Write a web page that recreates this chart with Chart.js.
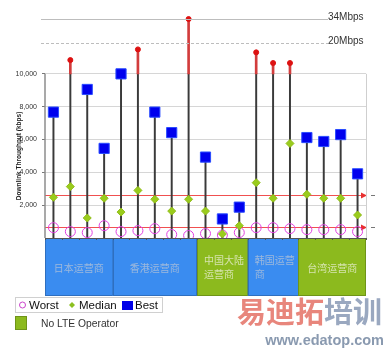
<!DOCTYPE html>
<html>
<head>
<meta charset="utf-8">
<script src="https://cdn.jsdelivr.net/npm/chart.js@4"></script>
<style>
  body { margin: 0; background: #fff; }
  #wrap { position: relative; width: 389px; height: 352px; }
</style>
</head>
<body>
<div id="wrap"><canvas id="chart" width="389" height="352"></canvas></div>
<script>
// operators, in plot order, grouped by region
const groupNames = ['日本运营商', '香港运营商', '中国大陆运营商', '韩国运营商', '台湾运营商']
const groupSizes = [4, 5, 3, 3, 4]
const groupHasLTE = [true, true, false, true, false]

// downlink throughput per operator (kbps)
const worst = [630, 390, 330, 750, 390, 450, 570, 210, 150, 270, 180, 330, 630, 630, 570, 510, 510, 510, 390]
const median = [2480, 3130, 1220, 2420, 1580, 2900, 2360, 1640, 2360, 1640, 250, 750, 3370, 2420, 5760, 2660, 2420, 2420, 1400]
const best = [7670, 10840, 9050, 5460, 10000, 11490, 7670, 6420, 13340, 4930, 1160, 1880, 11310, 10660, 10660, 6120, 5880, 6300, 3910]

const yTicks = [2000, 4000, 6000, 8000, 10000]
const yCap = 10000
const thresholds = [2620, 640]
const refLines = [13340, 11910]
const refLabels = ['34Mbps', '20Mbps']

const labels = []
groupNames.forEach((g, gi) => {
  for (let i = 0; i < groupSizes[gi]; i++) labels.push(g + ' ' + (i + 1))
})

const font = '"Liberation Sans", Arial, sans-serif'
const cjk = '"Noto Sans CJK SC", sans-serif'

const wrapText = (ctx, text, maxW) => {
  const lines = []
  let line = ''
  for (const ch of text) {
    if (line && ctx.measureText(line + ch).width > maxW) {
      lines.push(line)
      line = ch
    } else {
      line += ch
    }
  }
  lines.push(line)
  return lines
}

const decor = {
  id: 'decor',
  beforeDatasetsDraw(chart) {
    const { ctx, chartArea: a, scales: { y } } = chart
    ctx.save()
    thresholds.forEach(v => {
      const py = Math.round(y.getPixelForValue(v)) + 0.5
      ctx.strokeStyle = '#f05050'
      ctx.fillStyle = '#e83030'
      ctx.lineWidth = 1
      ctx.beginPath()
      ctx.moveTo(a.left, py)
      ctx.lineTo(a.right - 4, py)
      ctx.stroke()
      ctx.beginPath()
      ctx.moveTo(a.right + 1, py)
      ctx.lineTo(a.right - 5, py - 3)
      ctx.lineTo(a.right - 5, py + 3)
      ctx.closePath()
      ctx.fill()
      ctx.strokeStyle = '#777'
      ctx.beginPath()
      ctx.moveTo(a.right + 5, py)
      ctx.lineTo(a.right + 9, py)
      ctx.stroke()
    })
    ctx.restore()
  },
  afterDraw(chart) {
    const { ctx, chartArea: a, scales: { x, y } } = chart
    const y0 = y.getPixelForValue(0)
    const yTop = y.getPixelForValue(yCap)
    ctx.save()

    // reference lines above the scale
    refLines.forEach((v, i) => {
      const py = Math.round(y.getPixelForValue(v)) + 0.5
      ctx.strokeStyle = '#bdbdbd'
      ctx.lineWidth = 1
      ctx.setLineDash(i === 0 ? [] : [3, 2])
      ctx.beginPath()
      ctx.moveTo(41, py)
      ctx.lineTo(328, py)
      ctx.stroke()
      ctx.setLineDash([])
      ctx.fillStyle = '#333'
      ctx.font = '10px ' + font
      ctx.textAlign = 'left'
      ctx.textBaseline = 'alphabetic'
      ctx.fillText(refLabels[i], 328, py)
    })

    // left axis line and right border
    ctx.strokeStyle = '#8c8c8c'
    ctx.lineWidth = 1.5
    ctx.beginPath()
    ctx.moveTo(a.left, yTop)
    ctx.lineTo(a.left, y0)
    ctx.stroke()
    ctx.strokeStyle = '#cfcfcf'
    ctx.lineWidth = 1
    ctx.beginPath()
    ctx.moveTo(a.right + 0.5, yTop)
    ctx.lineTo(a.right + 0.5, y0)
    ctx.stroke()

    // axis title
    ctx.save()
    ctx.translate(19, (y0 + yTop) / 2)
    ctx.rotate(-Math.PI / 2)
    ctx.fillStyle = '#222'
    ctx.font = 'bold 6.5px ' + font
    ctx.textAlign = 'center'
    ctx.textBaseline = 'middle'
    ctx.fillText('Downlink Throughput (kbps)', 0, 0)
    ctx.restore()

    // region bands
    const half = (x.getPixelForValue(1) - x.getPixelForValue(0)) / 2
    const bandTop = Math.round(y0)
    const bandBottom = 296
    let start = 0
    groupNames.forEach((name, gi) => {
      const l = x.getPixelForValue(start) - half
      const r = x.getPixelForValue(start + groupSizes[gi] - 1) + half
      ctx.fillStyle = groupHasLTE[gi] ? '#3a8cf0' : '#8cba1e'
      ctx.fillRect(l, bandTop, r - l, bandBottom - bandTop)
      ctx.strokeStyle = groupHasLTE[gi] ? '#2f6fbf' : '#6f9418'
      ctx.lineWidth = 1
      ctx.strokeRect(Math.round(l) + 0.5, bandTop + 0.5, Math.round(r - l) - 1, bandBottom - bandTop - 1)

      ctx.font = '10px ' + cjk
      ctx.fillStyle = groupHasLTE[gi] ? '#9cb8dc' : '#d6e4ae'
      ctx.textBaseline = 'middle'
      const lines = wrapText(ctx, name, r - l - 9)
      if (lines.length === 1) {
        ctx.textAlign = 'center'
        ctx.fillText(name, (l + r) / 2, 268)
      } else {
        ctx.textAlign = 'left'
        lines.forEach((ln, li) => ctx.fillText(ln, l + 7, 260 + li * 14))
      }
      start += groupSizes[gi]
    })

    // x axis line with category ticks
    ctx.strokeStyle = '#555'
    ctx.lineWidth = 1
    ctx.beginPath()
    ctx.moveTo(a.left, bandTop + 0.5)
    ctx.lineTo(a.right, bandTop + 0.5)
    for (let i = 0; i <= labels.length; i++) {
      const px = Math.round(x.getPixelForValue(i) - half) + 0.5
      ctx.moveTo(px, bandTop)
      ctx.lineTo(px, bandTop + 2)
    }
    ctx.stroke()

    // legend
    ctx.fillStyle = '#fff'
    ctx.fillRect(15, 297, 147, 15)
    ctx.strokeStyle = '#d0d0d0'
    ctx.strokeRect(15.5, 297.5, 147, 15)
    ctx.strokeStyle = '#cc44cc'
    ctx.beginPath()
    ctx.arc(22.5, 305, 3, 0, Math.PI * 2)
    ctx.stroke()
    ctx.fillStyle = '#8cc020'
    ctx.beginPath()
    ctx.moveTo(72, 302)
    ctx.lineTo(75, 305)
    ctx.lineTo(72, 308)
    ctx.lineTo(69, 305)
    ctx.closePath()
    ctx.fill()
    ctx.fillStyle = '#0000e8'
    ctx.fillRect(122, 301, 11, 9)
    ctx.fillStyle = '#111'
    ctx.font = '11.5px ' + font
    ctx.textAlign = 'left'
    ctx.textBaseline = 'alphabetic'
    ctx.fillText('Worst', 29, 309)
    ctx.fillText('Median', 79, 309)
    ctx.fillText('Best', 135, 309)

    ctx.fillStyle = '#8cba1e'
    ctx.fillRect(15, 316, 12, 14)
    ctx.strokeStyle = '#6f9418'
    ctx.strokeRect(15.5, 316.5, 11, 13)
    ctx.fillStyle = '#333'
    ctx.font = '10.3px ' + font
    ctx.fillText('No LTE Operator', 41, 327)

    // watermark
    ctx.font = 'bold 29px ' + cjk
    ctx.textBaseline = 'alphabetic'
    ctx.fillStyle = '#e8867c'
    ctx.fillText('易迪拓', 237, 323)
    const w = ctx.measureText('易迪拓').width
    ctx.fillStyle = '#9aa8c0'
    ctx.fillText('培训', 237 + w, 323)
    ctx.font = 'bold 14.5px ' + font
    ctx.fillStyle = '#8a9ab0'
    ctx.textAlign = 'right'
    ctx.fillText('www.edatop.com', 384, 345)

    ctx.restore()
  }
}

new Chart(document.getElementById('chart'), {
  type: 'bar',
  data: {
    labels: labels,
    datasets: [
      {
        label: 'stem',
        data: best.map(v => [0, Math.min(v, yCap)]),
        backgroundColor: '#3a3a3a',
        barThickness: 1.3,
        grouped: false,
        order: 10,
      },
      {
        label: 'over',
        data: best.map(v => v > yCap ? [yCap, v] : null),
        backgroundColor: '#d23c3c',
        barThickness: 2,
        grouped: false,
        order: 9,
      },
      {
        type: 'line',
        label: 'Worst',
        data: worst,
        showLine: false,
        pointStyle: 'circle',
        pointRadius: 5,
        borderColor: '#e040e0',
        backgroundColor: 'rgba(0,0,0,0)',
        pointBorderWidth: 1,
        order: 3,
      },
      {
        type: 'line',
        label: 'Median',
        data: median,
        showLine: false,
        pointStyle: 'rectRot',
        pointRadius: 4,
        borderColor: '#90bc18',
        backgroundColor: '#9acc1c',
        pointBorderWidth: 1,
        order: 2,
      },
      {
        type: 'line',
        label: 'Best',
        data: best.map(v => v <= yCap ? v : null),
        showLine: false,
        pointStyle: 'rect',
        pointRadius: 7.2,
        borderColor: '#2a4cff',
        backgroundColor: '#0000ee',
        pointBorderWidth: 1,
        order: 1,
      },
      {
        type: 'line',
        label: 'Best (off scale)',
        data: best.map(v => v > yCap ? v : null),
        showLine: false,
        pointStyle: 'circle',
        pointRadius: 2.5,
        borderColor: '#dd1111',
        backgroundColor: '#dd1111',
        order: 1,
      },
    ],
  },
  options: {
    responsive: false,
    animation: false,
    devicePixelRatio: 1,
    layout: { padding: { left: 0, right: 23, top: 3.5, bottom: 114 } },
    plugins: {
      legend: { display: false },
      tooltip: { enabled: false },
    },
    scales: {
      x: { display: false, offset: true },
      y: {
        min: 0,
        max: 14000,
        afterFit: scale => {
          scale.width = 45
          scale.paddingTop = 0
          scale.paddingBottom = 0
        },
        afterBuildTicks: scale => { scale.ticks = yTicks.map(v => ({ value: v })) },
        border: { display: false },
        ticks: {
          font: { family: font, size: 7 },
          color: '#333',
          padding: 5,
          callback: v => v.toLocaleString('en-US'),
        },
        grid: {
          tickLength: 3,
          color: '#d6d6d6',
          tickColor: '#777',
        },
      },
    },
  },
  plugins: [decor],
})
</script>
</body>
</html>
